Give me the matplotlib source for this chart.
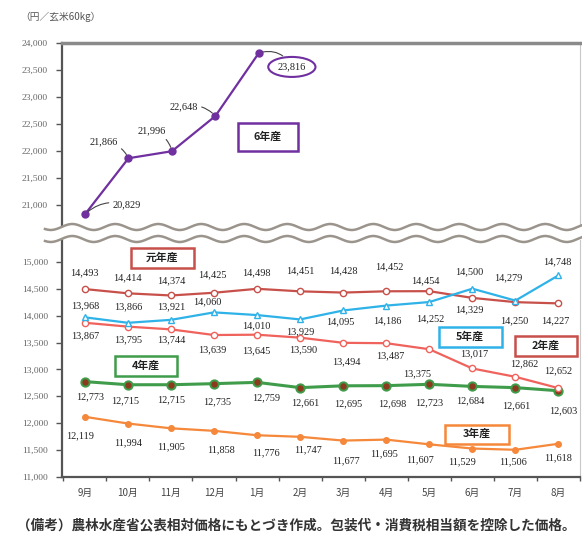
import matplotlib
matplotlib.use("Agg")
import matplotlib.pyplot as plt
import numpy as np
from matplotlib.patches import Rectangle, Polygon
from matplotlib.lines import Line2D
from matplotlib.ticker import FuncFormatter, FixedLocator

plt.rcParams['font.family'] = ['Noto Sans CJK JP', 'DejaVu Sans']

# ---- data -------------------------------------------------------------
months = ["9月", "10月", "11月", "12月", "1月", "2月", "3月", "4月",
          "5月", "6月", "7月", "8月"]
crop_r6 = [20829, 21866, 21996, 22648, 23816]
crop_r1 = [14493, 14414, 14374, 14425, 14498, 14451, 14428, 14452,
           14454, 14329, 14250, 14227]
crop_r5 = [13968, 13866, 13921, 14060, 14010, 13929, 14095, 14186,
           14252, 14500, 14279, 14748]
crop_r2 = [13867, 13795, 13744, 13639, 13645, 13590, 13494, 13487,
           13375, 13017, 12862, 12652]
crop_r4 = [12773, 12715, 12715, 12735, 12759, 12661, 12695, 12698,
           12723, 12684, 12661, 12603]
crop_r3 = [12119, 11994, 11905, 11858, 11776, 11747, 11677, 11695,
           11607, 11529, 11506, 11618]
top_ticks = [21000, 21500, 22000, 22500, 23000, 23500, 24000]
bottom_ticks = [11000, 11500, 12000, 12500, 13000, 13500, 14000, 14500, 15000]

# ---- layout helpers (pixel space, origin at top-left) -----------------
W, H = 582, 539
fig = plt.figure(figsize=(W / 100, H / 100), dpi=100)
fig.patch.set_facecolor("white")


def frect(x0, y0, x1, y1):
    return [x0 / W, 1 - y1 / H, (x1 - x0) / W, (y1 - y0) / H]


def fpt(x, y):
    return (x / W, 1 - y / H)


PLOT_L, PLOT_R = 62, 580
ax_top = fig.add_axes(frect(PLOT_L, 43, PLOT_R, 228))
ax_bot = fig.add_axes(frect(PLOT_L, 240, PLOT_R, 477))

x = np.arange(len(months))
xlim = (-0.53, 11.39)
for ax in (ax_top, ax_bot):
    ax.set_xlim(*xlim)
    ax.set_facecolor("white")

ax_top.set_ylim(24000 - (228 - 43) / 27.0 * 500, 24000)
ax_bot.set_ylim(11000, 11000 + (477 - 240) / 26.9 * 500)

fmt = FuncFormatter(lambda v, p: f"{int(v):,}")
for ax, ticks in ((ax_top, top_ticks), (ax_bot, bottom_ticks)):
    ax.yaxis.set_major_locator(FixedLocator(ticks))
    ax.yaxis.set_major_formatter(fmt)
    ax.tick_params(axis="y", direction="out", length=4, width=1,
                   color="#555555", labelsize=6.8, labelcolor="#666666", pad=6)
    for lab in ax.get_yticklabels():
        lab.set_family("Liberation Serif")

ax_top.tick_params(axis="x", which="both", bottom=False, labelbottom=False)
ax_bot.set_xticks(x)
ax_bot.set_xticklabels(months)
ax_bot.set_xticks(np.arange(-0.5, 11.6, 1.0), minor=True)
ax_bot.tick_params(axis="x", which="major", length=0, labelsize=7,
                   labelcolor="#444444", pad=8)
ax_bot.tick_params(axis="x", which="minor", direction="out", length=3,
                   width=1, color="#555555")

# spines
ax_top.spines["top"].set_color("#8a8a8a")
ax_top.spines["top"].set_linewidth(2.5)
ax_top.spines["bottom"].set_visible(False)
ax_bot.spines["top"].set_visible(False)
for ax in (ax_top, ax_bot):
    ax.spines["left"].set_color("#555555")
    ax.spines["left"].set_linewidth(1.6)
    ax.spines["right"].set_color("#c8c8c8")
    ax.spines["right"].set_linewidth(0.8)
ax_bot.spines["bottom"].set_color("#555555")
ax_bot.spines["bottom"].set_linewidth(1.6)

# ---- series -----------------------------------------------------------
C6 = "#7030A0"
C1 = "#C8504A"
C2 = "#F0625C"
C5 = "#2EB2E8"
C4 = "#3F9C4A"
C3 = "#F5883A"

ax_top.plot(x[:len(crop_r6)], crop_r6, color=C6, lw=1.6, marker="o", ms=5,
            mfc=C6, mec=C6, zorder=5, clip_on=False)
ax_bot.plot(x, crop_r1, color=C1, lw=1.6, marker="o", ms=4.5, mfc="white",
            mec=C1, mew=1, zorder=4)
ax_bot.plot(x, crop_r2, color=C2, lw=1.6, marker="o", ms=4.5, mfc="white",
            mec=C2, mew=1, zorder=4)
ax_bot.plot(x, crop_r5, color=C5, lw=1.6, marker="^", ms=5, mfc="white",
            mec=C5, mew=1, zorder=5)
ax_bot.plot(x, crop_r4, color=C4, lw=2.2, marker="o", ms=6, mfc="#8B3A1E",
            mec=C4, mew=1.4, zorder=3)
ax_bot.plot(x, crop_r3, color=C3, lw=1.6, marker="o", ms=4, mfc=C3,
            mec=C3, zorder=3)

LABEL_KW = dict(textcoords="offset pixels", ha="center", va="center",
                fontsize=7.4, family="Liberation Serif", color="#222222",
                zorder=6, annotation_clip=False)


def label_series(ax, vals, offsets):
    for i, (v, (dx, dy)) in enumerate(zip(vals, offsets)):
        ax.annotate(f"{v:,}", (x[i], v), xytext=(dx, dy), **LABEL_KW)


label_series(ax_bot, crop_r1,
             [(0, 16), (0, 16), (0, 15), (-2, 18), (-1, 16), (0, 21),
              (0, 22), (3, 25), (-4, 10), (-3, -12), (-1, -19), (-3, -17)])
label_series(ax_bot, crop_r5,
             [(0, 12), (0, 16), (0, 13), (-7, 11), (-1, -11), (0, -12),
              (-3, -11), (1, -15), (1, -17), (-3, 17), (-7, 23), (-1, 14)])
label_series(ax_bot, crop_r2,
             [(0, -13), (0, -13), (0, -10), (-2, -15), (-1, -16), (3, -12),
              (3, -19), (4, -13), (-12, -25), (2, 15), (9, 13), (0, 17)])
label_series(ax_bot, crop_r4,
             [(5, -15), (-3, -16), (0, -15), (3, -18), (9, -15), (5, -15),
              (5, -18), (6, -18), (0, -18), (-2, -14), (1, -18), (5, -20)])
label_series(ax_bot, crop_r3,
             [(-5, -19), (0, -19), (0, -18), (7, -19), (9, -18), (8, -13),
              (3, -20), (-2, -14), (-9, -15), (-10, -13), (-2, -12), (0, -14)])

# 6年産 labels with leader lines
lead = dict(arrowstyle="-", color="#444444", lw=0.8, shrinkA=1, shrinkB=3)
r6_offsets = [(42, 9, "arc3,rad=0.3"), (-25, 16, "arc3,rad=-0.3"),
              (-20, 20, "arc3,rad=-0.3"), (-32, 9, "arc3,rad=-0.3")]
for i, (dx, dy, cs) in enumerate(r6_offsets):
    ax_top.annotate(f"{crop_r6[i]:,}", (x[i], crop_r6[i]), xytext=(dx, dy),
                    arrowprops=dict(connectionstyle=cs, **lead), **LABEL_KW)
last = len(crop_r6) - 1
ax_top.annotate(f"{crop_r6[last]:,}", (x[last], crop_r6[last]), xytext=(33, -14),
                arrowprops=dict(connectionstyle="arc3,rad=0.4", **lead),
                bbox=dict(boxstyle="ellipse,pad=0.25", fc="white", ec=C6, lw=1.5),
                **LABEL_KW)

# ---- series name boxes -------------------------------------------------
def name_box(text, cx, cy, color, w=60, h=20):
    x0, y0 = fpt(cx - w / 2, cy + h / 2)
    fig.add_artist(Rectangle((x0, y0), w / W, h / H, transform=fig.transFigure,
                             fc="white", ec=color, lw=1.8, zorder=7))
    fig.text(*fpt(cx, cy), text, ha="center", va="center", fontsize=7.8,
             fontweight="bold", color="#222222", zorder=8)


name_box("6年産", 268, 137, C6, w=60, h=28)
name_box("元年産", 162, 258, C1, w=63)
name_box("4年産", 146, 366, C4, w=62)
name_box("5年産", 470, 337, C5, w=63)
name_box("2年産", 546, 346, C1, w=62)
name_box("3年産", 477, 434, C3, w=64, h=19)

# ---- axis break (double wave) -------------------------------------------
wx = np.linspace(45, W, 400)
amp, period = 3.0, 43.0
wave_top = 227 + amp * np.sin(2 * np.pi * (wx - 40) / period)
wave_bot = 239 + amp * np.sin(2 * np.pi * (wx - 40) / period)
gap = np.concatenate([np.column_stack([wx, wave_top]),
                      np.column_stack([wx[::-1], wave_bot[::-1]])])
fig.add_artist(Polygon([fpt(px, py) for px, py in gap], closed=True,
                       transform=fig.transFigure, fc="white", ec="none",
                       zorder=9))
for wy in (wave_top, wave_bot):
    fig.add_artist(Line2D(wx / W, 1 - wy / H, transform=fig.transFigure,
                          color="#9a948c", lw=1.8, zorder=10))

# ---- titles / notes ------------------------------------------------------
fig.text(*fpt(20, 17), "（円／玄米60kg）", ha="left", va="center",
         fontsize=7, color="#555555")
fig.text(*fpt(17, 525), "（備考）農林水産省公表相対価格にもとづき作成。包装代・消費税相当額を控除した価格。",
         ha="left", va="center", fontsize=9.8, fontweight="bold", color="#333333")

fig.savefig("out.png", dpi=100, facecolor="white")
